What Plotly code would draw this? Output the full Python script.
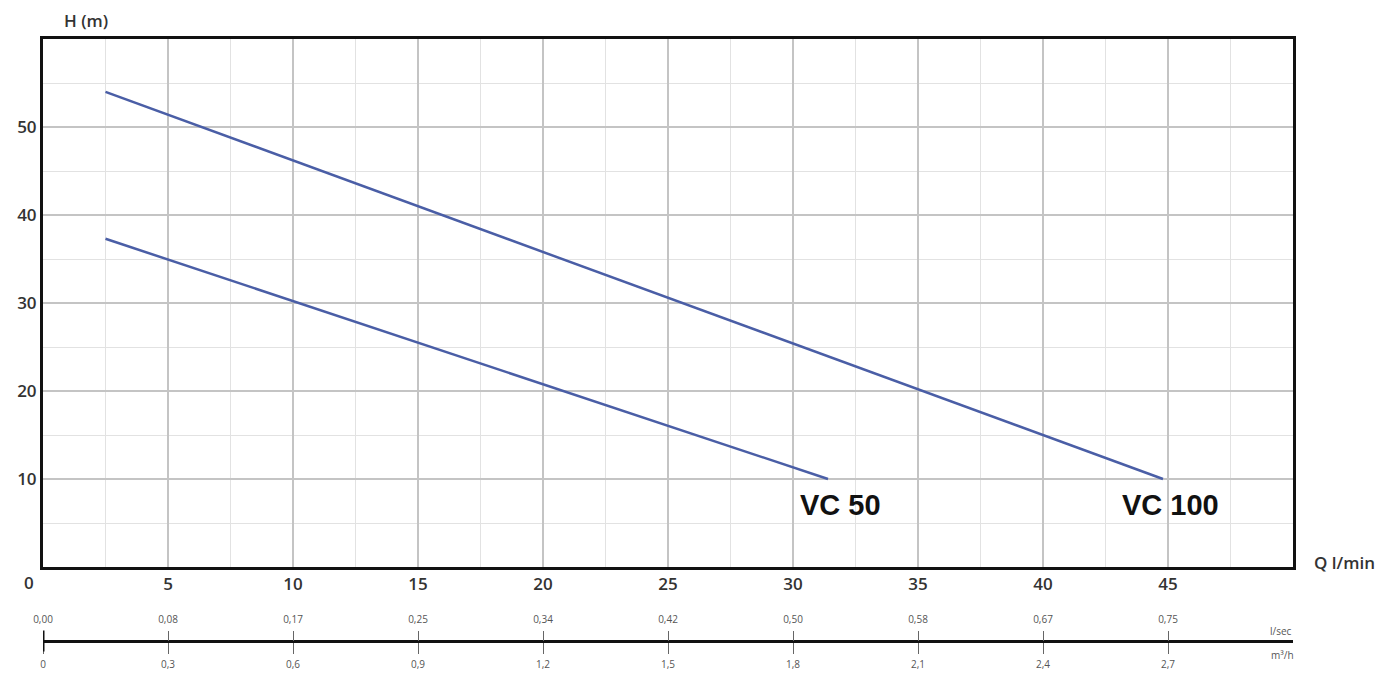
import plotly.graph_objects as go

# ---- data ----
vc100_q = [2.5, 44.8]
vc100_h = [54.0, 10.0]
vc50_q = [2.5, 31.4]
vc50_h = [37.3, 10.0]

q_ticks = [0, 5, 10, 15, 20, 25, 30, 35, 40, 45]
main_tick_labels = ["", "5", "10", "15", "20", "25", "30", "35", "40", "45"]
h_ticks = [10, 20, 30, 40, 50]
lsec_labels = ["0,00", "0,08", "0,17", "0,25", "0,34", "0,42", "0,50", "0,58", "0,67", "0,75"]
m3h_labels = ["0", "0,3", "0,6", "0,9", "1,2", "1,5", "1,8", "2,1", "2,4", "2,7"]

W, H = 1389, 674
ML, MR, MT, MB = 43, 96, 39, 14
plot_h = H - MT - MB
ydom0 = (H - MB - 567) / plot_h
sec_pos = (H - MB - 641) / plot_h

line_color = "#4a5ea6"
font_fam = "Open Sans, Lato, sans-serif"

fig = go.Figure()
fig.add_trace(go.Scatter(x=vc100_q, y=vc100_h, mode="lines",
                         line=dict(color=line_color, width=2.5), showlegend=False))
fig.add_trace(go.Scatter(x=vc50_q, y=vc50_h, mode="lines",
                         line=dict(color=line_color, width=2.5), showlegend=False))
# invisible traces to carry the secondary flow scales
fig.add_trace(go.Scatter(x=[0, 50], y=[None, None], xaxis="x2", yaxis="y",
                         mode="lines", showlegend=False, hoverinfo="skip"))
fig.add_trace(go.Scatter(x=[0, 50], y=[None, None], xaxis="x3", yaxis="y",
                         mode="lines", showlegend=False, hoverinfo="skip"))

main_font = dict(family=font_fam, size=17, color="#333", weight=600)
small_font = dict(family=font_fam, size=10, color="#555")

fig.update_layout(
    width=W, height=H,
    margin=dict(l=ML, r=MR, t=MT, b=MB, autoexpand=False),
    plot_bgcolor="white", paper_bgcolor="white",
    showlegend=False,
    xaxis=dict(range=[0, 50], domain=[0, 1], anchor="y", automargin=False,
               tickmode="array", tickvals=q_ticks, ticktext=main_tick_labels,
               showgrid=True, gridcolor="#c4c4c4", gridwidth=2,
               minor=dict(dtick=2.5, tick0=0, showgrid=True, gridcolor="#e2e2e2", gridwidth=1),
               showline=True, linecolor="#111", linewidth=3, mirror=True,
               zeroline=False, ticks="",
               tickfont=main_font),
    yaxis=dict(range=[0, 60], domain=[ydom0, 1], anchor="x", automargin=False,
               tickmode="array", tickvals=h_ticks,
               showgrid=True, gridcolor="#c4c4c4", gridwidth=2,
               minor=dict(dtick=5, tick0=0, showgrid=True, gridcolor="#e2e2e2", gridwidth=1),
               showline=True, linecolor="#111", linewidth=3, mirror=True,
               zeroline=False, ticks="",
               tickfont=main_font),
    xaxis2=dict(range=[0, 50], overlaying="x", anchor="free", position=sec_pos, side="bottom",
                automargin=False,
                tickmode="array", tickvals=q_ticks, ticktext=m3h_labels,
                showgrid=False, zeroline=False,
                showline=True, linecolor="#111", linewidth=3,
                ticks="outside", ticklen=11, tickwidth=1, tickcolor="#666",
                ticklabelstandoff=2,
                tickfont=small_font),
    xaxis3=dict(range=[0, 50], overlaying="x", anchor="free", position=sec_pos, side="top",
                automargin=False,
                tickmode="array", tickvals=q_ticks, ticktext=lsec_labels,
                showgrid=False, zeroline=False, showline=False,
                ticks="outside", ticklen=10, tickwidth=1, tickcolor="#666",
                ticklabelstandoff=4,
                tickfont=small_font),
)

# thick zero tick on the secondary scale
fig.add_shape(type="line", xref="x", yref="paper", x0=0, x1=0,
              y0=sec_pos - 0.017, y1=sec_pos + 0.017,
              line=dict(color="#111", width=3))

fig.add_annotation(text="H (m)", xref="paper", yref="paper", x=0.034, y=1,
                   yanchor="middle", xanchor="center",
                   yshift=19, showarrow=False, font=main_font)
fig.add_annotation(text="Q l/min", xref="paper", yref="paper", x=1, y=ydom0,
                   xanchor="left", yanchor="middle", xshift=19, yshift=5,
                   showarrow=False, font=main_font)
fig.add_annotation(text="0", xref="x", yref="paper", x=0, y=ydom0,
                   xanchor="center", yanchor="middle",
                   xshift=-14, yshift=-15, showarrow=False, font=main_font)
fig.add_annotation(text="l/sec", xref="paper", yref="paper", x=1, y=sec_pos,
                   xanchor="center", yanchor="middle",
                   xshift=-12, yshift=10, showarrow=False, font=small_font)
fig.add_annotation(text="m³/h", xref="paper", yref="paper", x=1, y=sec_pos,
                   xanchor="center", yanchor="middle",
                   xshift=-11, yshift=-14, showarrow=False, font=small_font)

lab_font = dict(family="Liberation Sans, Arial, sans-serif", size=29, color="#111")
fig.add_annotation(text="<b>VC 50</b>", x=31.9, y=7.0, xref="x", yref="y",
                   xanchor="center", yanchor="middle",
                   showarrow=False, font=lab_font)
fig.add_annotation(text="<b>VC 100</b>", x=45.1, y=7.0, xref="x", yref="y",
                   xanchor="center", yanchor="middle",
                   showarrow=False, font=lab_font)

fig.write_html("out.html")
